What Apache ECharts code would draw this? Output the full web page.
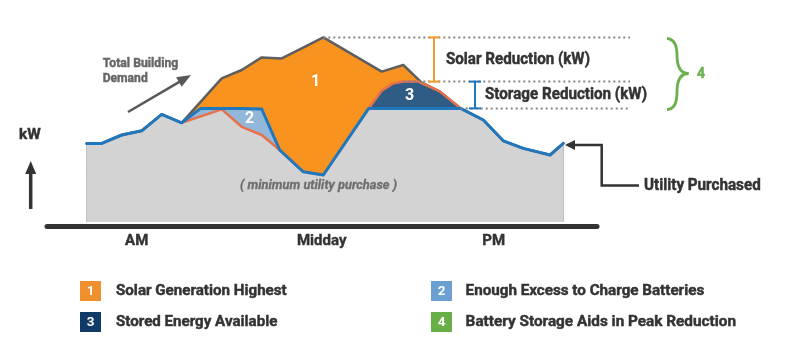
<!DOCTYPE html>
<html><head><meta charset="utf-8">
<script src="https://cdn.jsdelivr.net/npm/echarts@6/dist/echarts.min.js"></script>
<style>html,body{margin:0;padding:0;background:#fff}#c{width:800px;height:350px}</style>
</head><body><div id="c"></div>
<script>
// ---- data (hours of day, kW) ----
const hours     = [0.25, 1, 2, 3, 4, 5, 5.95, 7, 8, 9, 9.9, 11.08, 12.08, 14.35, 15, 15.55, 16.08, 16.83, 17.92, 18.95, 20.08, 21.08, 22.08, 23.42, 24.08];
const purchased = [39.3, 39.3, 43.5, 45.6, 53.8, 49.6, 56.8, 56.8, 56.8, 56.5, 36.0, 25.1, 23.5, 56.8, 56.8, 56.8, 56.8, 56.8, 56.8, 56.8, 51.0, 40.6, 36.8, 33.5, 39.3];
const netLoad   = [39.3, 39.3, 43.5, 45.6, 53.8, 49.6, 52.8, 56.3, 47.6, 43.5, 36.0, 25.1, 23.5, 56.8, 65.7, 69.2, 70.2, 70.2, 65.2, 56.8, 51.0, 40.6, 36.8, 33.5, 39.3];
const demandHours = [0.25, 1, 2, 3, 4, 5, 7, 8, 9, 10, 11, 12.08, 15, 16.08, 17, 17.92, 18.95, 20.08, 21.08, 22.08, 23.42, 24.08];
const demand      = [39.3, 39.3, 43.5, 45.6, 53.8, 49.6, 71.8, 76.0, 82.3, 81.8, 86.8, 92.3, 75.2, 78.5, 69.7, 65.2, 56.8, 51.0, 40.6, 36.8, 33.5, 39.3];
const tickHours  = [2.75, 12.0, 20.6];
const tickLabels = ['AM', 'Midday', 'PM'];
const regionNums = ['1', '2', '3'];
const regionPos  = [[11.7, 70.2], [8.4, 51.4], [16.4, 63.0]];
const legendNums  = ['1', '2', '3', '4'];
const legendTexts = ['Solar Generation Highest', 'Enough Excess to Charge Batteries', 'Stored Energy Available', 'Battery Storage Aids in Peak Reduction'];

// ---- chart ----
const chart = echarts.init(document.getElementById('c'), null, {renderer: 'canvas'});
const floor = purchased.map((v, i) => Math.min(v, netLoad[i]));
const pair = (xs, ys) => xs.map((x, i) => [x, ys[i]]);
const areaS = (data, color) => ({type: 'line', data, symbol: 'none', silent: true,
  lineStyle: {width: 0, opacity: 0}, areaStyle: {color, opacity: 1}});
const lineS = (data, color, w) => ({type: 'line', data, symbol: 'none', silent: true,
  lineStyle: {color, width: w, join: 'round', cap: 'round'}});

const C = {orange: '#F7931E', navy: '#2F5C85', light: '#93B7D8', gray: '#D3D3D3',
  blue: '#1F78BE', red: '#E8704A', dline: '#5E5E5E', text: '#333333', green: '#6AB04C'};

chart.setOption({
  animation: false,
  grid: {left: 47, right: 203, top: 22, bottom: 128},
  xAxis: {type: 'value', min: -1.735, max: 25.765, offset: 4.5,
    axisLine: {show: true, onZero: false, lineStyle: {color: '#333', width: 5}},
    axisTick: {show: false}, splitLine: {show: false},
    axisLabel: {customValues: tickHours,
      formatter: v => { const i = tickHours.findIndex(t => Math.abs(t - v) < 1e-6); return i >= 0 ? tickLabels[i] : ''; },
      color: '#333', fontFamily: 'Roboto', fontWeight: 'bold', fontSize: 15, margin: 7,
      textBorderColor: '#333', textBorderWidth: 0.4}},
  yAxis: {type: 'value', min: 0, max: 100, show: false},
  series: [
    areaS(pair(demandHours, demand), C.orange),
    areaS(pair(hours, netLoad), C.navy),
    areaS(pair(hours, purchased), C.light),
    areaS(pair(hours, floor), C.gray),
    lineS(pair(demandHours, demand), C.dline, 2.5),
    lineS(pair(hours, netLoad), C.red, 2.5),
    lineS(pair(hours, purchased), C.blue, 3)
  ]
});

// ---- annotations ----
const px = (x, y) => chart.convertToPixel({gridIndex: 0}, [x, y]);
const mctx = document.createElement('canvas').getContext('2d');
function txt(str, x, y, size, width, color, opt) {
  opt = opt || {};
  const font = (opt.italic ? 'italic ' : '') + 'bold ' + size + 'px Roboto';
  mctx.font = font;
  const w = mctx.measureText(str).width;
  const align = opt.align || 'left';
  const style = {text: str, font, fill: color, align, textAlign: align, verticalAlign: 'middle', textVerticalAlign: 'middle'};
  if (opt.heavy !== false) { style.stroke = color; style.lineWidth = opt.heavy || 0.45; }
  return {type: 'text', x, y, scaleX: width ? width / w : 1, z: 100, silent: true, style};
}
function line(x1, y1, x2, y2, color, w, dash) {
  return {type: 'line', z: 90, silent: true, shape: {x1, y1, x2, y2},
    style: {stroke: color, lineWidth: w, lineDash: dash || null}};
}
function poly(points, color) {
  return {type: 'polygon', z: 90, silent: true, shape: {points}, style: {fill: color}};
}
function arrow(x1, y1, x2, y2, color, w, hl, hw) {
  const dx = x2 - x1, dy = y2 - y1, L = Math.hypot(dx, dy), ux = dx / L, uy = dy / L;
  const bx = x2 - ux * hl, by = y2 - uy * hl;
  return [line(x1, y1, bx + ux, by + uy, color, w),
    poly([[x2, y2], [bx - uy * hw, by + ux * hw], [bx + uy * hw, by - ux * hw]], color)];
}

const g = [];
// dotted reference levels
const iPk = demand.indexOf(Math.max(...demand));
const pPeak = px(demandHours[iPk], demand[iPk]);
const iNet = netLoad.indexOf(Math.max(...netLoad));
const pNet = px(hours[iNet], netLoad[iNet]);
const capVal = Math.max(...purchased);
const iCap = purchased.lastIndexOf(capVal);
const pCap = px(hours[iCap], capVal);
const dotEnd = 630;
g.push(line(pPeak[0], pPeak[1], dotEnd, pPeak[1], '#858585', 2, [2, 3]));
g.push(line(pNet[0], pNet[1], dotEnd, pNet[1], '#858585', 2, [2, 3]));
g.push(line(pCap[0], pCap[1], dotEnd, pCap[1], '#858585', 2, [2, 3]));
// I-bars
function ibar(x, yA, yB, color) {
  return [line(x, yA, x, yB, color, 2), line(x - 6, yA, x + 6, yA, color, 2), line(x - 6, yB, x + 6, yB, color, 2)];
}
g.push(...ibar(434, pPeak[1], pNet[1], '#F39A2E'));
g.push(...ibar(475, pNet[1], pCap[1], C.blue));
g.push(txt('Solar Reduction (kW)', 446, 60, 16, 144, C.text));
g.push(txt('Storage Reduction (kW)', 485, 95, 16, 162, C.text));
// brace + 4
const bz = (x1, y1, c1x, c1y, c2x, c2y, x2, y2) => ({type: 'bezierCurve', z: 90, silent: true,
  shape: {x1, y1, x2, y2, cpx1: c1x, cpy1: c1y, cpx2: c2x, cpy2: c2y},
  style: {stroke: C.green, lineWidth: 2.8, fill: null}});
g.push(bz(667, 38.5, 674, 39, 677, 45, 677, 55));
g.push(bz(677, 55, 677, 66, 680, 73.5, 688.5, 73.5));
g.push(bz(688.5, 73.5, 680, 73.5, 677, 81, 677, 92));
g.push(bz(677, 92, 677, 103, 674, 109.5, 667, 109.5));
g.push(txt('4', 701, 74, 14, 0, C.green, {align: 'center'}));
// region numbers
regionNums.forEach((n, i) => {
  const p = px(regionPos[i][0], regionPos[i][1]);
  g.push(txt(n, p[0], p[1], 16, 0, '#ffffff', {align: 'center', heavy: false}));
});
// total building demand
g.push(txt('Total Building', 102.7, 64, 13.5, 75.6, '#666666'));
g.push(txt('Demand', 102.7, 78.3, 13.5, 45, '#666666'));
g.push(...arrow(128, 112, 191, 75, '#585858', 2.5, 14, 5.5));
// kW axis marker
g.push(txt('kW', 19, 135, 15.5, 21.7, C.text));
g.push(...arrow(30.7, 209, 30.7, 161, C.text, 3.5, 13, 5.5));
// minimum utility purchase
g.push(txt('( minimum utility purchase )', 240, 186, 12.5, 157, '#6e6e6e', {italic: true, heavy: 0.3}));
// utility purchased pointer
g.push({type: 'polyline', z: 90, silent: true,
  shape: {points: [[639, 185.5], [601.7, 185.5], [601.7, 145], [574, 145]]},
  style: {stroke: C.text, lineWidth: 2.5, fill: null}});
g.push(poly([[565, 145], [575, 140], [575, 150]], C.text));
g.push(txt('Utility Purchased', 644, 185.7, 16, 116.7, C.text));
// legend
const legColors = ['#EF8F2D', '#6C9FD2', '#0F3B66', '#68AF47'];
const legWidths = [170.7, 238.6, 161.3, 270.4];
legendNums.forEach((n, i) => {
  const col = i % 2, row = Math.floor(i / 2);
  const sx = col ? 431 : 80, sy = row ? 312 : 281;
  g.push({type: 'rect', z: 90, silent: true, shape: {x: sx, y: sy, width: 21, height: 20}, style: {fill: legColors[i]}});
  g.push(txt(n, sx + 10.5, sy + 10.5, 13.5, 0, '#ffffff', {align: 'center', heavy: false}));
  g.push(txt(legendTexts[i], col ? 465.6 : 116, sy + 10, 15.5, legWidths[i], C.text));
});
chart.setOption({graphic: {elements: g}});
</script>
</body></html>
